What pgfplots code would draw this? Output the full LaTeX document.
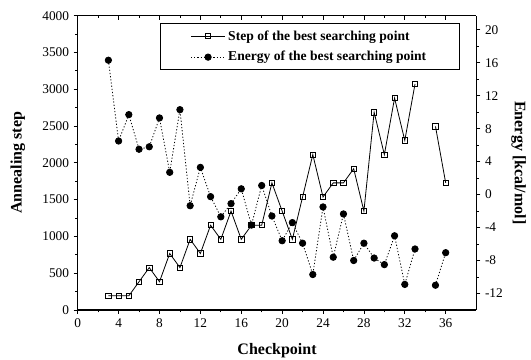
\documentclass[border=0pt]{standalone}
\usepackage{pgfplots}
\pgfplotsset{compat=1.18}
\usepackage{pgfplotstable}
\usepackage{fontspec}
\setmainfont{Liberation Serif}

\pgfplotstableread{
x y
3 192
4 192
5 192
6 384
7 576
8 384
9 768
10 576
11 960
12 768
13 1152
14 960
15 1344
16 960
17 1152
18 1152
19 1728
20 1344
21 960
22 1536
23 2112
24 1536
25 1728
26 1728
27 1920
28 1344
29 2688
30 2112
31 2880
32 2304
33 3072
34 nan
35 2496
36 1728
}\steptable

\pgfplotstableread{
x y
3 16.3
4 6.5
5 9.7
6 5.5
7 5.8
8 9.3
9 2.7
10 10.3
11 -1.35
12 3.3
13 -0.25
14 -2.7
15 -1.1
16 0.7
17 -3.7
18 1.1
19 -2.6
20 -5.6
21 -3.4
22 -5.9
23 -9.7
24 -1.5
25 -7.6
26 -2.35
27 -8.0
28 -5.9
29 -7.7
30 -8.5
31 -5.0
32 -10.9
33 -6.6
34 nan
35 -11.0
36 -7.05
}\energytable

\pgfplotsset{
  base/.style={
    scale only axis, width=299pt, height=220.7pt,
    at={(0,0)}, anchor=south west,
    xmin=0, xmax=39,
    xtick={0,4,...,36}, minor x tick num=1,
    axis line style={line width=0.9pt},
    major tick length=3pt, minor tick length=1.8pt,
    every tick/.style={black, line width=0.6pt},
    tick label style={font=\fontsize{10}{12}\selectfont},
    /pgf/number format/assume math mode=true,
    unbounded coords=jump,
    legend image code/.code={\draw[mark repeat=2,mark phase=2,##1] plot coordinates {(0cm,0cm) (0.45cm,0cm) (0.9cm,0cm)};},
  }
}

\begin{document}
\begin{tikzpicture}
\useasboundingbox (-58.3pt,-37.5pt) rectangle (340pt,232.5pt);
% left axis + bottom
\begin{axis}[base,
  axis x line*=bottom, axis y line*=left,
  tick align=outside,
  ymin=0, ymax=4000, ytick={0,500,...,4000}, minor y tick num=1,
  xlabel={\bfseries Checkpoint},
  ylabel={\bfseries Annealing step},
  every axis x label/.style={at={(axis description cs:0.5,-0.1396)}, anchor=center, font=\fontsize{12}{14}\selectfont},
  every axis y label/.style={at={(axis description cs:-0.1505,0.5)}, anchor=center, rotate=90, font=\fontsize{12}{14}\selectfont},
  yticklabel style={/pgf/number format/1000 sep={}},
]
\addplot[black, line width=0.6pt, mark=square, mark size=2pt, mark options={solid, fill=white, line width=0.6pt}] table[x=x,y=y] {\steptable};
\end{axis}
% right axis
\begin{axis}[base,
  hide x axis,
  axis y line*=right,
  tick align=outside,
  ymin=-14, ymax=21.7, ytick={-12,-8,...,20}, minor y tick num=1,
  ylabel={\bfseries Energy [kcal/mol]},
  every axis y label/.style={at={(axis description cs:1.106,0.5)}, anchor=center, rotate=-90, font=\fontsize{12}{14}\selectfont},
  legend style={at={(axis description cs:0.959,0.974)}, anchor=north east,
    draw=black, line width=0.6pt, font=\fontsize{10.2}{12}\selectfont\bfseries,
    row sep=3pt, inner xsep=23pt, inner ysep=3pt, legend cell align=left},
]
\addlegendimage{black, line width=0.6pt, mark=square, mark size=2pt, mark options={solid, fill=white, line width=0.6pt}}
\addlegendentry{Step of the best searching point}
\addplot[black, line width=0.6pt, dash pattern=on 0.9pt off 1.5pt, mark=*, mark size=2.4pt, mark options={solid, fill=black}] table[x=x,y=y] {\energytable};
\addlegendentry{Energy of the best searching point}
\end{axis}
% top axis
\begin{axis}[base,
  hide y axis,
  axis x line*=top,
  tick align=inside,
  xticklabels={},
  ymin=0, ymax=1,
]
\end{axis}
\end{tikzpicture}
\end{document}
